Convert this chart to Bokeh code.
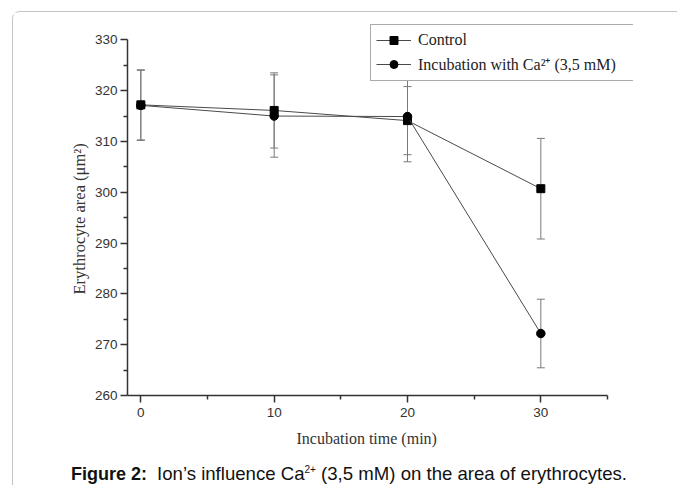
from bokeh.plotting import figure
from bokeh.layouts import column
from bokeh.models import (ColumnDataSource, Whisker, TeeHead, FixedTicker, Legend,
                          LegendItem, Range1d, Div, Title)
from bokeh.embed import file_html
from bokeh.resources import INLINE

# ---- data ----
time_min = [0, 10, 20, 30]
control_area = [317.2, 316.1, 314.1, 300.7]
control_err = [6.9, 7.4, 6.7, 9.9]
calcium_area = [317.1, 315.0, 314.9, 272.2]
calcium_err = [6.9, 8.1, 8.9, 6.75]

x_major_ticks = [0, 10, 20, 30]
x_minor_ticks = [5, 15, 25, 35]
y_major_ticks = [260, 270, 280, 290, 300, 310, 320, 330]
y_minor_ticks = [265, 275, 285, 295, 305, 315, 325]
x_axis_span = (-1, 35)
y_axis_span = (260, 330)

control_label = "Control"
calcium_label = "Incubation with Ca\u00b2\u207a (3,5 mM)"
x_title = "Incubation time (min)"
y_title = "Erythrocyte area (\u03bcm\u00b2)"
caption_html = ("<b>Figure 2:</b>&nbsp; <span style='font-size:18.6px'>Ion\u2019s influence "
                "Ca<sup style='font-size:10px'>2+</sup>"
                " (3,5 mM) on the area of erythrocytes.</span>")

# ---- figure ----
p = figure(frame_width=506, frame_height=376,
           x_range=Range1d(-1, 36.95), y_range=Range1d(260, 334),
           output_backend="svg", toolbar_location=None,
           min_border_left=114, min_border_top=7, min_border_right=44,
           min_border_bottom=59)
p.outline_line_color = None
p.xgrid.visible = False
p.ygrid.visible = False
p.background_fill_color = "white"
p.border_fill_color = "white"

for ax in (p.xaxis[0], p.yaxis[0]):
    ax.axis_line_color = "#333333"
    ax.axis_line_width = 1.5
    ax.major_tick_line_color = "#333333"
    ax.major_tick_line_width = 1.5
    ax.minor_tick_line_color = "#333333"
    ax.minor_tick_line_width = 1.5
    ax.major_tick_out = 7
    ax.major_tick_in = 0
    ax.minor_tick_out = 4
    ax.minor_tick_in = 0
    ax.major_label_text_font = "Liberation Sans"
    ax.major_label_text_font_size = "13.5px"
    ax.major_label_text_color = "#333333"

p.xaxis.bounds = x_axis_span
p.yaxis.bounds = y_axis_span
p.xaxis.ticker = FixedTicker(ticks=x_major_ticks, minor_ticks=x_minor_ticks)
p.yaxis.ticker = FixedTicker(ticks=y_major_ticks, minor_ticks=y_minor_ticks)
p.xaxis.major_label_standoff = 5
p.yaxis.major_label_standoff = 3

# axis titles placed along the drawn axis spans (not the wider frame)
p.add_layout(Title(text=x_title, align="left", offset=169, standoff=17,
                   text_font="Liberation Serif", text_font_style="normal",
                   text_font_size="16px", text_color="#333333"), "below")
p.add_layout(Title(text=y_title, align="left", offset=101, standoff=5,
                   text_font="Liberation Serif", text_font_style="normal",
                   text_font_size="16.5px", text_color="#333333"), "left")

# ---- error bars ----
src_c = ColumnDataSource(dict(
    x=time_min,
    lower=[v - e for v, e in zip(control_area, control_err)],
    upper=[v + e for v, e in zip(control_area, control_err)]))
src_ca = ColumnDataSource(dict(
    x=time_min,
    lower=[v - e for v, e in zip(calcium_area, calcium_err)],
    upper=[v + e for v, e in zip(calcium_area, calcium_err)]))

for src in (src_c, src_ca):
    w = Whisker(base="x", lower="lower", upper="upper", source=src,
                line_color="#7a7a7a", line_width=1,
                upper_head=TeeHead(size=8, line_color="#7a7a7a", line_width=1),
                lower_head=TeeHead(size=8, line_color="#7a7a7a", line_width=1))
    w.level = "underlay"
    p.add_layout(w)

# ---- series ----
l1 = p.line(time_min, control_area, line_color="#4a4a4a", line_width=1)
m1 = p.scatter(time_min, control_area, marker="square", size=8,
               fill_color="black", line_color="black")
l2 = p.line(time_min, calcium_area, line_color="#4a4a4a", line_width=1)
m2 = p.scatter(time_min, calcium_area, marker="circle", size=8.5,
               fill_color="black", line_color="black")

legend = Legend(items=[LegendItem(label=control_label, renderers=[l1, m1]),
                       LegendItem(label=calcium_label, renderers=[l2, m2])],
                location=(243, 314), glyph_width=35, glyph_height=20,
                label_height=20, label_standoff=7, padding=5, spacing=3,
                label_width=300, margin=0,
                label_text_font="Liberation Serif", label_text_font_size="16px",
                label_text_color="#222222",
                border_line_color="#555555", border_line_width=1,
                background_fill_color="white", background_fill_alpha=1)
p.add_layout(legend)

# ---- caption ----
cap = Div(text=caption_html, width=600, height=22, margin=(8, 0, 0, 58),
          styles={"font-family": "Liberation Sans, Arial, sans-serif",
                  "font-size": "18px", "color": "#111111",
                  "white-space": "nowrap", "line-height": "normal"})

page = column(p, cap, margin=(11, 0, 0, 12), spacing=0,
              styles={"border-top": "1px solid #c4c4c4",
                      "border-left": "1px solid #c4c4c4",
                      "border-top-left-radius": "8px"})

open("out.html", "w").write(file_html(page, INLINE))
